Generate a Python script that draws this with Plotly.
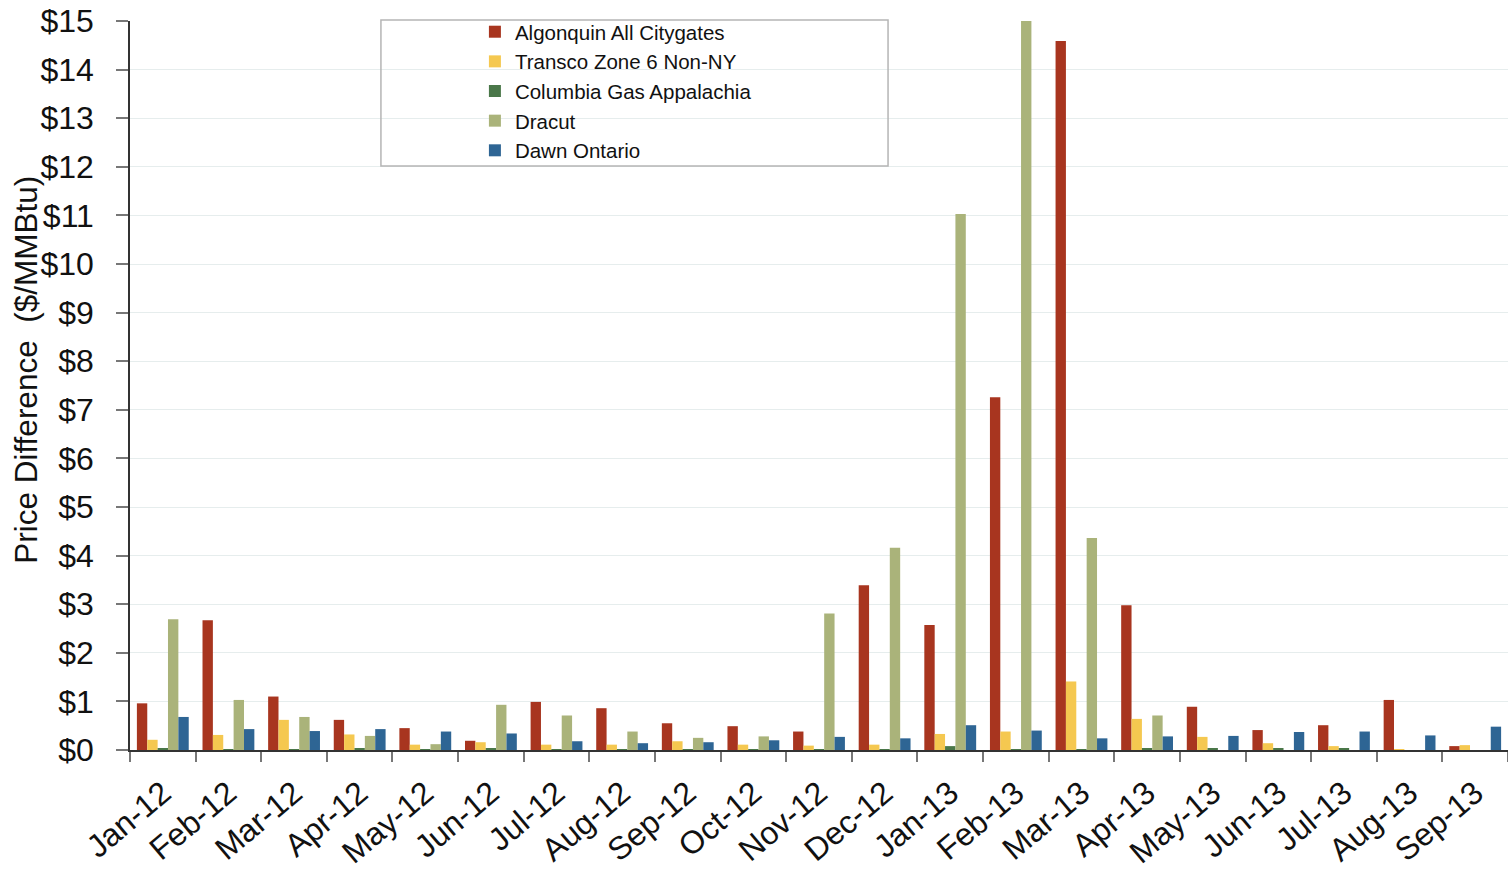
import plotly.graph_objects as go

months = ["Jan-12", "Feb-12", "Mar-12", "Apr-12", "May-12", "Jun-12", "Jul-12",
          "Aug-12", "Sep-12", "Oct-12", "Nov-12", "Dec-12", "Jan-13", "Feb-13",
          "Mar-13", "Apr-13", "May-13", "Jun-13", "Jul-13", "Aug-13", "Sep-13"]

algonquin = [0.96, 2.67, 1.10, 0.62, 0.45, 0.19, 0.99, 0.86, 0.55, 0.49, 0.38, 3.39,
             2.57, 7.26, 14.59, 2.98, 0.89, 0.41, 0.51, 1.03, 0.08]
transco = [0.21, 0.31, 0.62, 0.32, 0.11, 0.16, 0.11, 0.11, 0.18, 0.11, 0.09, 0.11,
           0.33, 0.38, 1.41, 0.64, 0.27, 0.14, 0.08, 0.01, 0.10]
columbia = [0.03, 0.01, 0.01, 0.03, 0.01, 0.03, 0.01, 0.01, 0.01, 0.01, 0.01, 0.01,
            0.08, 0.01, 0.01, 0.03, 0.03, 0.03, 0.03, -0.03, -0.02]
dracut = [2.69, 1.03, 0.68, 0.29, 0.12, 0.93, 0.71, 0.38, 0.25, 0.28, 2.81, 4.16,
          11.03, 15.0, 4.36, 0.71, 0.0, 0.0, 0.0, 0.0, 0.0]
dawn = [0.68, 0.43, 0.39, 0.43, 0.38, 0.34, 0.18, 0.14, 0.16, 0.20, 0.27, 0.24,
        0.51, 0.40, 0.24, 0.28, 0.29, 0.37, 0.38, 0.30, 0.48]

series = [
    ("Algonquin All Citygates", algonquin, "#a8351f"),
    ("Transco Zone 6 Non-NY", transco, "#f5c850"),
    ("Columbia Gas Appalachia", columbia, "#4a7749"),
    ("Dracut", dracut, "#aab37a"),
    ("Dawn Ontario", dawn, "#2e6594"),
]

y_ticks = list(range(0, 16))
y_tick_text = [f"${v}" for v in y_ticks]

FONT = "Liberation Sans, Arial, sans-serif"

fig = go.Figure()
for name, vals, color in series:
    fig.add_trace(go.Bar(x=months, y=vals, name=name,
                         marker=dict(color=color, line=dict(width=0))))

fig.update_layout(
    width=1508, height=873,
    margin=dict(l=130, r=0, t=21, b=123),
    paper_bgcolor="white", plot_bgcolor="white",
    barmode="group", bargap=0.21, bargroupgap=0,
    font=dict(family=FONT, color="#111111"),
    legend=dict(x=0.2503, y=1.0125, xanchor="left", yanchor="top",
                bgcolor="rgba(0,0,0,0)", borderwidth=0,
                font=dict(size=20.5, family=FONT, color="#111111"),
                tracegroupgap=0),
    showlegend=True,
)

fig.update_xaxes(
    type="category", tickson="boundaries",
    ticks="outside", ticklen=10, tickcolor="#777777", tickwidth=1.5,
    tickangle=-40, ticklabelstandoff=10,
    tickfont=dict(size=32, family=FONT, color="#111111"),
    showline=True, linecolor="#333333", linewidth=1.5,
    showgrid=False,
)

fig.update_yaxes(
    range=[0, 15], tickvals=y_ticks, ticktext=y_tick_text,
    ticks="outside", ticklen=12, tickcolor="#777777", tickwidth=1.5,
    ticklabelstandoff=16,
    tickfont=dict(size=32, family=FONT, color="#111111"),
    showline=True, linecolor="#333333", linewidth=1.5,
    showgrid=True, gridcolor="#e6eded", gridwidth=1,
    zeroline=False,
)

# Axis title, set close to the tick labels
fig.add_annotation(
    text="Price Difference  ($/MMBtu)", textangle=-90,
    xref="paper", yref="paper", x=-0.075, y=0.521,
    xanchor="center", yanchor="middle", showarrow=False,
    font=dict(size=31.5, family=FONT, color="#111111"),
)

# Frame around the legend
fig.add_shape(
    type="rect", xref="paper", yref="paper",
    x0=0.1821, x1=0.5501, y0=0.801, y1=1.0014,
    line=dict(color="#b5b5b5", width=1.5), fillcolor="rgba(0,0,0,0)",
)

fig.write_html("out.html")
